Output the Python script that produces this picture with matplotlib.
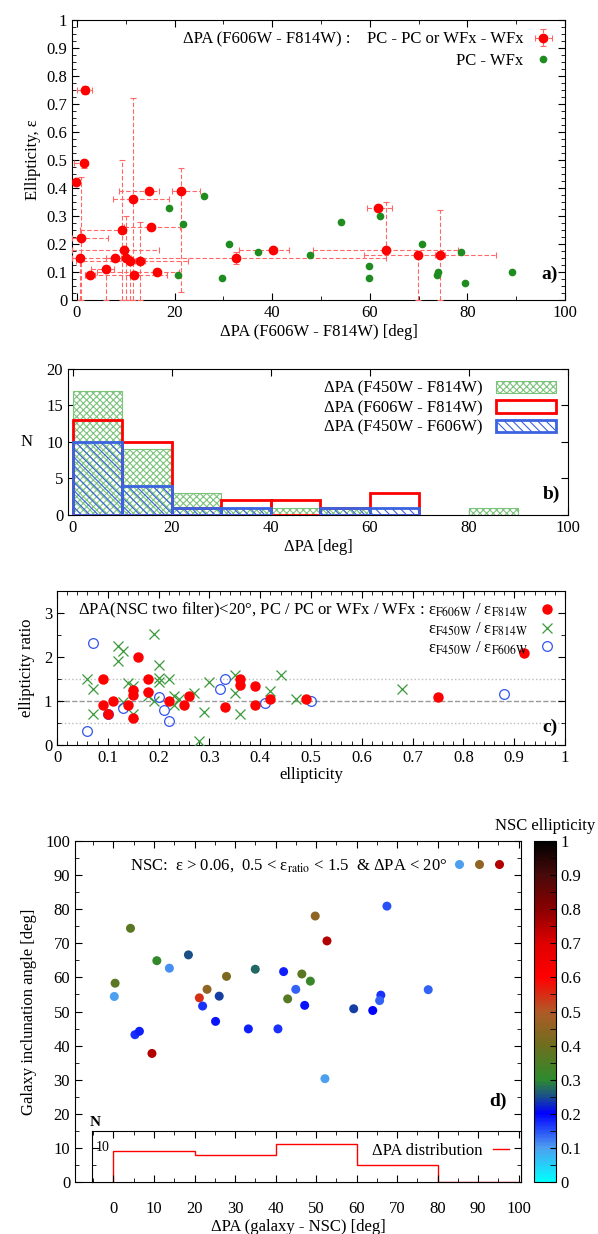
import numpy as np
import matplotlib
matplotlib.use('Agg')
import matplotlib.pyplot as plt
from matplotlib.colors import LinearSegmentedColormap
from matplotlib.lines import Line2D
from matplotlib.patches import Patch
from matplotlib.legend_handler import HandlerTuple
from matplotlib.ticker import MultipleLocator

plt.rcParams['font.family'] = ['Liberation Serif', 'DejaVu Serif']
plt.rcParams['mathtext.fontset'] = 'stix'
plt.rcParams['font.size'] = 12
plt.rcParams['hatch.linewidth'] = 0.8

# ---- panel a: dPA (F606W - F814W) vs ellipticity ----
red_x = [1.6, 1.5, -0.1, 14.8, 21.4, 11.4, 9.2, 15.1, 0.8, 9.6, 0.6, 7.9, 10.1, 10.9, 12.9,
         5.9, 2.7, 11.6, 16.5, 32.6, 40.1, 61.7, 63.4, 69.9, 74.4]
red_y = [0.75, 0.49, 0.42, 0.39, 0.39, 0.36, 0.25, 0.26, 0.22, 0.18, 0.15, 0.15, 0.15, 0.14, 0.14,
         0.11, 0.09, 0.09, 0.10, 0.15, 0.18, 0.33, 0.18, 0.16, 0.16]
red_xlo = [1.5, 2.0, 0.5, 6.2, 2.0, 4.0, 8.5, 5.5, 1.8, 10.6, 1.6, 2.0, 1.0, 11.0, 1.0,
           3.1, 1.0, 9.9, 12.4, 31.5, 6.8, 2.3, 15.0, 11.0, 1.0]
red_xhi = [1.5, 0.5, 0.5, 2.0, 3.9, 7.4, 0.5, 6.0, 5.5, 7.2, 0.5, 2.0, 1.0, 11.9, 1.0,
           1.8, 1.0, 6.9, 4.4, 30.7, 3.4, 2.8, 14.6, 16.0, 1.0]
red_ylo = [0.015, 0.02, 0.01, 0.01, 0.36, 0.36, 0.25, 0.01, 0.22, 0.01, 0.15, 0.01, 0.15, 0.14, 0.14,
           0.11, 0.01, 0.01, 0.01, 0.02, 0.01, 0.01, 0.01, 0.16, 0.16]
red_yhi = [0.015, 0.01, 0.01, 0.01, 0.08, 0.36, 0.25, 0.01, 0.22, 0.01, 0.0, 0.01, 0.15, 0.01, 0.14,
           0.01, 0.01, 0.01, 0.01, 0.02, 0.01, 0.01, 0.17, 0.01, 0.16]
green_x = [26.0, 18.8, 21.8, 20.8, 31.1, 29.7, 37.1, 47.7, 54.1, 62.1, 59.8, 59.8, 70.7, 78.7,
           73.9, 73.7, 79.6, 89.1]
green_y = [0.37, 0.33, 0.27, 0.09, 0.20, 0.08, 0.17, 0.16, 0.28, 0.30, 0.12, 0.08, 0.20, 0.17,
           0.10, 0.09, 0.06, 0.10]

# ---- panel b: histograms ----
bin_edges = np.arange(0, 101, 10)
n_450_814 = [17, 9, 3, 1, 1, 1, 0, 0, 1, 0]
n_606_814 = [13, 10, 1, 2, 2, 1, 3, 0, 0, 0]
n_450_606 = [10, 4, 1, 1, 0, 1, 1, 0, 0, 0]

# ---- panel c: ellipticity ratios ----
r1_e = [0.09, 0.09, 0.10, 0.11, 0.14, 0.15, 0.15, 0.15, 0.16, 0.18, 0.18, 0.22, 0.25, 0.26,
        0.33, 0.36, 0.36, 0.39, 0.39, 0.42, 0.49, 0.75, 0.92]
r1_r = [1.50, 0.90, 0.71, 0.99, 0.92, 1.26, 1.14, 0.62, 2.00, 1.50, 1.20, 0.99, 0.92, 1.12,
        0.86, 1.50, 1.37, 1.34, 0.90, 1.05, 1.04, 1.09, 2.09]
r2_e = [0.06, 0.07, 0.07, 0.12, 0.12, 0.13, 0.13, 0.14, 0.15, 0.15, 0.18, 0.19, 0.19, 0.20,
        0.20, 0.20, 0.22, 0.23, 0.23, 0.24, 0.27, 0.29, 0.30, 0.28, 0.35, 0.35, 0.36, 0.42,
        0.44, 0.47, 0.68]
r2_r = [1.50, 1.28, 0.71, 2.24, 1.91, 2.14, 0.97, 1.41, 1.35, 0.71, 1.12, 2.53, 0.99, 1.81,
        1.52, 1.43, 1.50, 1.12, 0.92, 1.05, 1.18, 0.74, 1.43, 0.10, 1.59, 1.18, 0.71, 1.22,
        1.59, 1.05, 1.28]
r3_e = [0.07, 0.06, 0.10, 0.13, 0.20, 0.21, 0.22, 0.32, 0.33, 0.41, 0.50, 0.88]
r3_r = [2.32, 0.32, 0.71, 0.85, 1.10, 0.80, 0.55, 1.28, 1.49, 0.96, 1.00, 1.16]

# ---- panel d: galaxy inclination vs dPA ----
dpa_gal = [0.2, 0.4, 4.2, 10.7, 13.8, 18.5, 21.2, 23.1, 22.0, 26.1, 27.9, 25.2, 35.0, 42.0,
           45.0, 43.0, 46.5, 48.6, 47.2, 49.8, 52.7, 59.3, 64.0, 66.0, 65.7, 67.5, 77.7, 33.3,
           40.6, 5.3, 6.4, 9.5, 52.2]
incl = [54.4, 58.3, 74.4, 64.9, 62.7, 66.6, 54.0, 56.5, 51.6, 54.5, 60.3, 47.1, 62.4, 61.7,
        56.5, 53.7, 61.0, 58.9, 51.8, 78.0, 70.7, 50.8, 50.3, 54.8, 53.2, 80.9, 56.4, 44.9,
        44.9, 43.2, 44.2, 37.7, 30.3]
nsc_ell = [0.10, 0.37, 0.37, 0.31, 0.11, 0.25, 0.55, 0.45, 0.17, 0.24, 0.42, 0.19, 0.27, 0.18,
           0.14, 0.36, 0.37, 0.32, 0.19, 0.45, 0.75, 0.24, 0.20, 0.17, 0.14, 0.15, 0.14, 0.18,
           0.17, 0.17, 0.18, 0.75, 0.10]
dist_edges = [0, 20, 40, 60, 80, 100]
dist_counts = [9, 8, 11, 5, 0]

cmap = LinearSegmentedColormap.from_list('nsc', [
    (0.0, '#00ffff'), (0.1, '#4f9df0'), (0.2, '#0000ff'), (0.25, '#1a4f8a'),
    (0.3, '#2e8b2e'), (0.4, '#6e6e1e'), (0.5, '#b05a28'), (0.6, '#ff0000'),
    (0.7, '#e00000'), (0.8, '#8b0000'), (0.9, '#4a0a0a'), (1.0, '#000000')])

W, H = 598, 1234


def px_axes(fig, left, top, right, bottom):
    return fig.add_axes([left / W, 1 - bottom / H, (right - left) / W, (bottom - top) / H])


def style(ax):
    ax.tick_params(which='both', direction='in', top=True, right=True, labelsize=12)
    ax.tick_params(which='major', length=5)
    ax.tick_params(which='minor', length=3)


fig = plt.figure(figsize=(W / 100, H / 100), dpi=100)

# panel a
ax = px_axes(fig, 72, 20, 565, 300)
eb = ax.errorbar(red_x, red_y, xerr=[red_xlo, red_xhi], yerr=[red_ylo, red_yhi], fmt='o',
                 color='red', ms=6, ecolor='#ff6666', elinewidth=0.8, capsize=2, capthick=0.8,
                 zorder=3)
for lc in eb[2]:
    lc.set_linestyle((0, (4, 2)))
gl, = ax.plot(green_x, green_y, 'o', color='#1e8c1e', ms=4.5, zorder=4)
ax.set_xlim(-1, 100)
ax.set_ylim(0, 1)
ax.xaxis.set_major_locator(MultipleLocator(20))
ax.xaxis.set_minor_locator(MultipleLocator(10))
ax.yaxis.set_major_locator(MultipleLocator(0.1))
ax.yaxis.set_minor_locator(MultipleLocator(0.025))
ax.set_yticklabels(['0' if abs(v) < 1e-9 else ('1' if abs(v - 1) < 1e-9 else f'{v:.1f}')
                    for v in ax.get_yticks()])
style(ax)
ax.set_xlabel('ΔPA (F606W - F814W) [deg]', labelpad=2)
ax.set_ylabel('Ellipticity, ε', labelpad=4)
ax.legend([eb, gl], ['ΔPA (F606W - F814W) :    PC - PC or WFx - WFx', 'PC - WFx'],
          loc='upper right', frameon=False, markerfirst=False, handlelength=1.2,
          handletextpad=0.6, borderaxespad=0.3, labelspacing=0.3)
ax.text(0.985, 0.06, 'a)', transform=ax.transAxes, ha='right', va='bottom',
        fontsize=14, fontweight='bold')

# panel b
ax = px_axes(fig, 68, 369, 568, 515)
left = bin_edges[:-1]
g = np.array(n_450_814)
r = np.array(n_606_814)
b = np.array(n_450_606)
ax.bar(left[g > 0], g[g > 0], width=10, align='edge', facecolor='white',
       edgecolor='#7cc47c', hatch='xxxxx', linewidth=0.8, zorder=2)
ax.bar(left[r > 0], r[r > 0], width=10, align='edge', facecolor='none',
       edgecolor='red', linewidth=2, zorder=3)
ax.bar(left[b > 0], b[b > 0], width=10, align='edge', facecolor='none',
       edgecolor='#3b63e0', hatch='\\\\\\\\', linewidth=2, zorder=4)
ax.set_xlim(-1, 100)
ax.set_ylim(0, 20)
ax.xaxis.set_major_locator(MultipleLocator(20))
ax.yaxis.set_major_locator(MultipleLocator(5))
style(ax)
ax.set_xlabel('ΔPA [deg]', labelpad=2)
ax.set_ylabel('N', rotation=0, labelpad=14, va='center')
hb = [Patch(facecolor='white', edgecolor='#7cc47c', hatch='xxxxx', linewidth=0.8),
      Patch(facecolor='none', edgecolor='red', linewidth=2),
      Patch(facecolor='none', edgecolor='#3b63e0', hatch='\\\\\\\\', linewidth=2)]
ax.legend(hb, ['ΔPA (F450W - F814W)', 'ΔPA (F606W - F814W)', 'ΔPA (F450W - F606W)'],
          loc='upper right', frameon=False, markerfirst=False, handlelength=3.6,
          handleheight=0.8, handletextpad=0.8, borderaxespad=0.3, labelspacing=0.2)
ax.text(0.985, 0.08, 'b)', transform=ax.transAxes, ha='right', va='bottom',
        fontsize=14, fontweight='bold')

# panel c
ax = px_axes(fig, 57, 591, 565, 745)
ax.axhline(1, color='#999999', ls='--', lw=1, zorder=1)
ax.axhline(0.5, color='#bbbbbb', ls=':', lw=1, zorder=1)
ax.axhline(1.5, color='#bbbbbb', ls=':', lw=1, zorder=1)
h1, = ax.plot(r1_e, r1_r, 'o', color='red', ms=6.5, zorder=4)
h2, = ax.plot(r2_e, r2_r, 'x', color='#3a9a3a', ms=7, mew=0.9, zorder=3)
h3, = ax.plot(r3_e, r3_r, 'o', mfc='none', mec='#3355ee', ms=7, mew=0.9, zorder=3)
ax.set_xlim(0, 1)
ax.set_ylim(0, 3.5)
ax.xaxis.set_major_locator(MultipleLocator(0.1))
ax.xaxis.set_minor_locator(MultipleLocator(0.02))
ax.yaxis.set_major_locator(MultipleLocator(1))
ax.yaxis.set_minor_locator(MultipleLocator(0.5))
ax.set_xticklabels(['0' if abs(v) < 1e-9 else ('1' if abs(v - 1) < 1e-9 else f'{v:.1f}')
                    for v in ax.get_xticks()])
style(ax)
ax.set_xlabel('ellipticity', labelpad=1)
ax.set_ylabel('ellipticity ratio', labelpad=6)
ax.legend([h1, h2, h3],
          [r'ΔPA(NSC two filter)<20°, PC / PC or WFx / WFx : ε$_{\rm F606W}$ / ε$_{\rm F814W}$',
           r'ε$_{\rm F450W}$ / ε$_{\rm F814W}$',
           r'ε$_{\rm F450W}$ / ε$_{\rm F606W}$'],
          loc='upper right', frameon=False, markerfirst=False, handlelength=1.0,
          handletextpad=0.6, borderaxespad=0.2, labelspacing=0.05)
ax.text(0.985, 0.06, 'c)', transform=ax.transAxes, ha='right', va='bottom',
        fontsize=14, fontweight='bold')

# panel d
ax = px_axes(fig, 75, 841, 521, 1182)
sc = ax.scatter(dpa_gal, incl, c=nsc_ell, cmap=cmap, vmin=0, vmax=1, s=42,
                edgecolors='none', zorder=3)
ax.set_xlim(-9.5, 100.6)
ax.set_ylim(0, 100)
ax.set_xticks(np.arange(0, 101, 10))
ax.xaxis.set_minor_locator(MultipleLocator(5))
ax.yaxis.set_major_locator(MultipleLocator(10))
ax.yaxis.set_minor_locator(MultipleLocator(5))
style(ax)
ax.tick_params(axis='x', pad=14)
ax.set_xlabel('ΔPA (galaxy - NSC) [deg]', labelpad=1)
ax.set_ylabel('Galaxy inclunation angle [deg]', labelpad=6)
dots = tuple(Line2D([], [], ls='none', marker='o', ms=6.5, mec='none', mfc=cmap(v))
             for v in (0.1, 0.45, 0.75))
ax.legend([dots], [r'NSC:  ε > 0.06,  0.5 < ε$_{\rm ratio}$ < 1.5  & ΔPA < 20°'],
          handler_map={tuple: HandlerTuple(ndivide=None, pad=0.6)},
          loc='upper right', frameon=False, markerfirst=False, handlelength=3.0,
          handletextpad=0.4, borderaxespad=0.6)
ax.text(97, 21, 'd)', ha='right', va='bottom', fontsize=14, fontweight='bold')

axi = ax.inset_axes([-5.4, 0, 106.0, 15], transform=ax.transData, zorder=5)
axi.stairs(dist_counts, dist_edges, baseline=0, color='red', lw=1)
axi.set_xlim(-5.4, 100.6)
axi.set_ylim(0, 15)
axi.xaxis.set_major_locator(MultipleLocator(10))
axi.xaxis.set_minor_locator(MultipleLocator(5))
axi.set_xticklabels([])
axi.set_yticks([10])
axi.set_yticklabels([])
axi.yaxis.set_minor_locator(MultipleLocator(5))
axi.tick_params(which='both', direction='in', top=True, right=True)
axi.tick_params(which='major', length=5)
axi.tick_params(which='minor', length=3)
axi.text(-4.5, 10, '10', fontsize=10, va='center', ha='left')
axi.text(-6.0, 15.6, 'N', fontsize=11, fontweight='bold', ha='left', va='bottom')
axi.legend([Line2D([], [], color='red', lw=1)], ['ΔPA distribution'],
           loc='upper right', frameon=False, markerfirst=False, handlelength=1.0,
           handletextpad=0.6, borderaxespad=0.3)

cax = px_axes(fig, 534, 841, 556, 1182)
cb = fig.colorbar(sc, cax=cax)
cb.set_ticks(np.arange(0, 1.01, 0.1))
cb.set_ticklabels(['0'] + [f'{v:.1f}' for v in np.arange(0.1, 0.95, 0.1)] + ['1'])
cax.tick_params(which='both', direction='in', labelsize=12, length=4)
cax.yaxis.set_minor_locator(MultipleLocator(0.05))
fig.text(545 / W, 1 - 826 / H, 'NSC ellipticity', ha='center', va='center', fontsize=12)

fig.savefig('out.png', dpi=100)
